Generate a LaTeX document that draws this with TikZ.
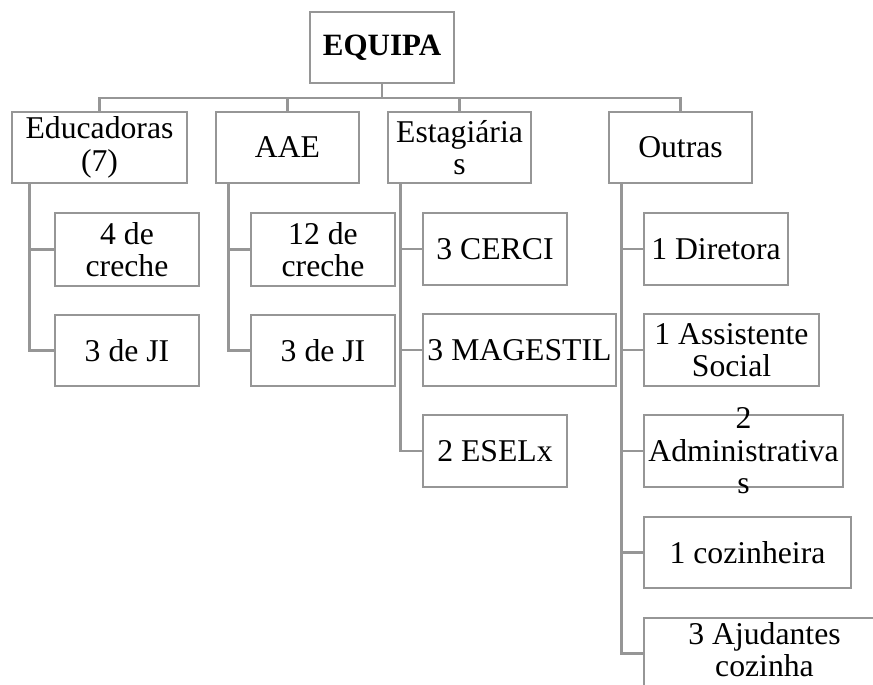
\documentclass[tikz,border=0pt]{standalone}
\usepackage{fontspec}
\setmainfont{Liberation Serif}
\definecolor{linegray}{RGB}{150,150,150}
\begin{document}
\begin{tikzpicture}[x=1pt,y=-1pt,
  box/.style={draw=linegray, line width=2.8pt, inner sep=0pt},
  txt/.style={align=center, inner sep=0pt, font=\fontsize{31.7}{32.5}\selectfont},
  conn/.style={draw=linegray, line width=2.8pt}]
\clip (0,0) rectangle (873,685);
\fill[white] (0,0) rectangle (873,685);
% boxes
\node[box, minimum width=144pt, minimum height=71pt] (eq)  at (382,47.5) {};
\node[box, minimum width=175pt, minimum height=71pt] (edu) at (99.5,147.5) {};
\node[box, minimum width=143pt, minimum height=71pt] (aae) at (287.5,147.5) {};
\node[box, minimum width=143pt, minimum height=71pt] (est) at (459.5,147.5) {};
\node[box, minimum width=143pt, minimum height=71pt] (out) at (680.5,147.5) {};
\node[box, minimum width=144pt, minimum height=73pt] (e1) at (127,249.5) {};
\node[box, minimum width=144pt, minimum height=71pt] (e2) at (127,350.5) {};
\node[box, minimum width=144pt, minimum height=73pt] (a1) at (323,249.5) {};
\node[box, minimum width=144pt, minimum height=71pt] (a2) at (323,350.5) {};
\node[box, minimum width=144pt, minimum height=72pt] (s1) at (495,249) {};
\node[box, minimum width=193pt, minimum height=72pt] (s2) at (519.5,350) {};
\node[box, minimum width=144pt, minimum height=72pt] (s3) at (495,451) {};
\node[box, minimum width=144pt, minimum height=72pt] (o1) at (716,249) {};
\node[box, minimum width=175pt, minimum height=72pt] (o2) at (731.5,350) {};
\node[box, minimum width=199pt, minimum height=72pt] (o3) at (743.5,451) {};
\node[box, minimum width=207pt, minimum height=71pt] (o4) at (747.5,552.5) {};
\node[box, minimum width=241pt, minimum height=71pt] (o5) at (764.5,653.5) {};
% texts
\node[txt, font=\fontsize{31}{32.5}\selectfont\bfseries] (teq) at (eq) {EQUIPA};
\node[txt] (tedu) at (edu) {Educadoras\\(7)};
\node[txt] (taae) at (aae) {AAE};
\node[txt] (test) at (est) {Estagiária\\s};
\node[txt] (tout) at (out) {Outras};
\node[txt] (te1) at (e1) {4 de\\creche};
\node[txt] (te2) at (e2) {3 de JI};
\node[txt] (ta1) at (a1) {12 de\\creche};
\node[txt] (ta2) at (a2) {3 de JI};
\node[txt] (ts1) at (s1) {3 CERCI};
\node[txt] (ts2) at (s2) {3 MAGESTIL};
\node[txt] (ts3) at (s3) {2 ESELx};
\node[txt] (to1) at (o1) {1 Diretora};
\node[txt] (to2) at (o2) {1 Assistente\\Social};
\node[txt] (to3) at (o3) {2\\Administrativa\\s};
\node[txt] (to4) at (o4) {1 cozinheira};
\node[txt] (to5) at ([yshift=4pt]o5.center) {3 Ajudantes\\cozinha};
% top connectors
\coordinate (bar) at (0,98);
\draw[conn] (eq.south) -- (eq.south |- bar);
\draw[conn] (edu.north) |- (bar -| out.north) -- (out.north);
\draw[conn] (aae.north) -- (aae.north |- bar);
\draw[conn] (est.north) -- (est.north |- bar);
% child connectors
\coordinate (ev) at ([xshift=19pt]edu.south west);
\draw[conn] (ev) |- (e2.west);
\draw[conn] (e1.west) -- (e1.west -| ev);
\coordinate (av) at ([xshift=14pt]aae.south west);
\draw[conn] (av) |- (a2.west);
\draw[conn] (a1.west) -- (a1.west -| av);
\coordinate (sv) at ([xshift=14pt]est.south west);
\draw[conn] (sv) |- (s3.west);
\draw[conn] (s1.west) -- (s1.west -| sv);
\draw[conn] (s2.west) -- (s2.west -| sv);
\coordinate (ov) at ([xshift=14pt]out.south west);
\draw[conn] (ov) |- (o5.west);
\draw[conn] (o1.west) -- (o1.west -| ov);
\draw[conn] (o2.west) -- (o2.west -| ov);
\draw[conn] (o3.west) -- (o3.west -| ov);
\draw[conn] (o4.west) -- (o4.west -| ov);
\end{tikzpicture}
\end{document}
